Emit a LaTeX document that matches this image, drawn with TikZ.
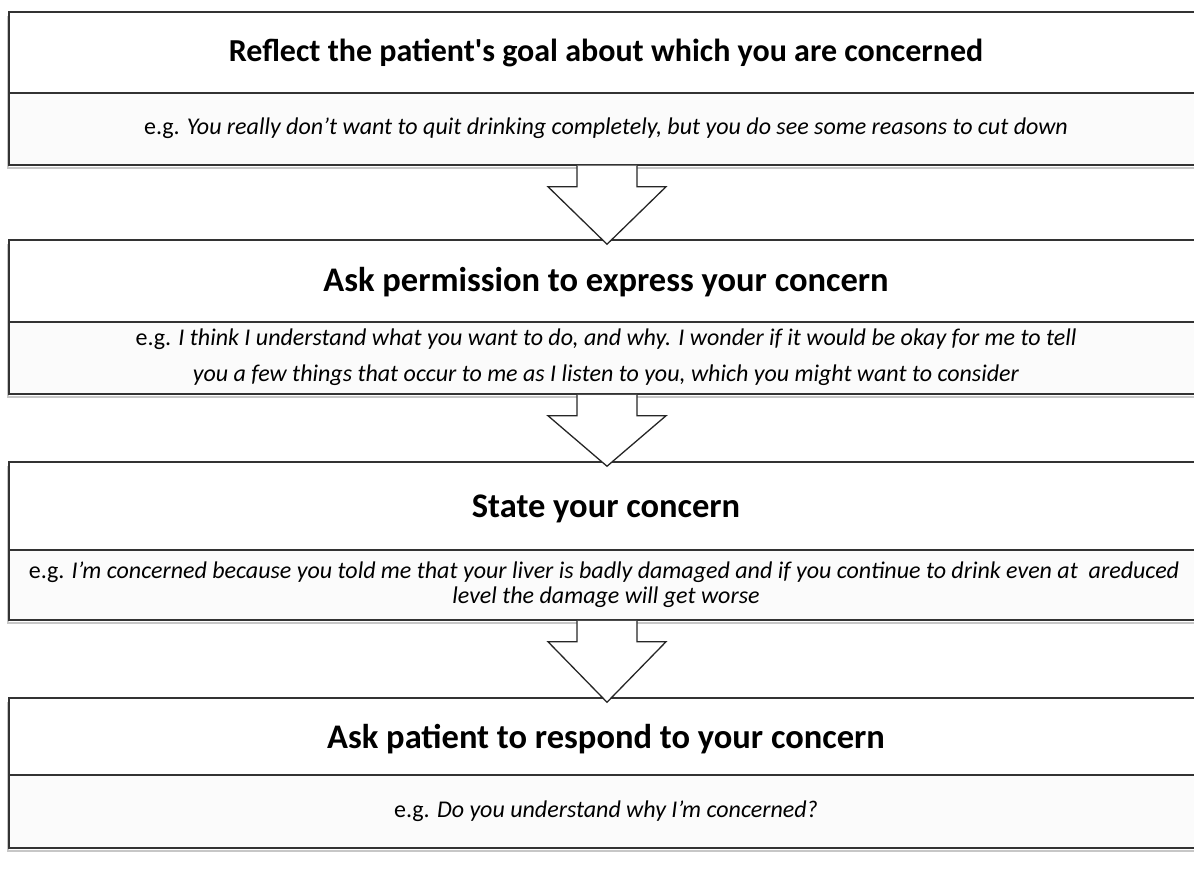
\documentclass[tikz,border=0pt]{standalone}
\usepackage{fontspec}
\setmainfont{Carlito}
\usepackage{tikz}
\usetikzlibrary{fit}
\usetikzlibrary{calc}

\tikzset{
	headbox/.style={draw=black!80, line width=1.5pt, fill=white, inner sep=0pt},
	bodybox/.style={draw=black!80, line width=1.5pt, fill=black!1.5, inner sep=0pt},
	shade/.style={draw=black!22, line width=1.8pt},
	blockarrow/.style={draw=black!85, line width=1.3pt, fill=white, line join=miter},
	headtext/.style={anchor=base, inner sep=0pt, font=\bfseries\fontsize{34.5}{40}\selectfont},
	bodytext/.style={anchor=base, inner sep=0pt, font=\fontsize{24}{28}\selectfont}
}

\begin{document}
\begin{tikzpicture}[x=1pt, y=-1pt]
		\useasboundingbox (0,0) rectangle (1194,877);
		\coordinate (ax) at (607,0);
		\begin{scope}
				\foreach \i/\sh/\mh/\eh in{
						1/12/93/165,
						2/240/322/394,
						3/462/550/620,
						4/698/775/848
				}{
				\pgfmathsetmacro{\lh}{\eh+3}
				% soft shadow under the box
				\draw[shade] (8,\sh+4) -- (8,\lh) -- (1200,\lh);
				\node[headbox, fit={(9,\sh)(1210,\mh)}](h\i){};
				\node[bodybox, fit={(9,\mh)(1210,\eh)}](b\i){};
				}
		\end{scope}
		\begin{scope}
				\foreach \i/\j in{1/2, 2/3, 3/4}{
				\path (b\i.south -| ax) coordinate (s\i) (h\j.north -| ax) coordinate (t\i);
				\draw[blockarrow] ($(s\i)+(-30,0)$) -- ($(s\i)+(-30,21)$) -- ($(s\i)+(-59,21)$) -- ($(t\i)+(0,5)$) -- ($(s\i)+(59,21)$) -- ($(s\i)+(30,21)$) -- ($(s\i)+(30,0)$);
				}
		\end{scope}

		\node[headtext, font=\bfseries\fontsize{32}{38}\selectfont] (n1) at (606,62){Reflect the patient\textquotesingle s goal about which you are concerned};
		\node[headtext] (n2) at (606,292){Ask permission to express your concern};
		\node[headtext] (n3) at (606,517){State your concern};
		\node[headtext] (n4) at (606,748){Ask patient to respond to your concern};

		\node[bodytext] (e1) at (606,135){e.g. \textit{You really don’t want to quit drinking completely, but you do see some reasons to cut down}};
		\node[bodytext] (e2) at (606,345){e.g. \textit{I think I understand what you want to do, and why. I wonder if it would be okay for me to tell}};
		\node[bodytext] (f2) at (606,381){\textit{you a few things that occur to me as I listen to you, which you might want to consider}};
		\node[bodytext] (e3) at (604,578){e.g. \textit{I’m concerned because you told me that your liver is badly damaged and if you continue to drink even at\ \ areduced}};
		\node[bodytext] (f3) at (606,603){\textit{level the damage will get worse}};
		\node[bodytext] (e4) at (606,817){e.g. \textit{Do you understand why I’m concerned?}};
\end{tikzpicture}
\end{document}
